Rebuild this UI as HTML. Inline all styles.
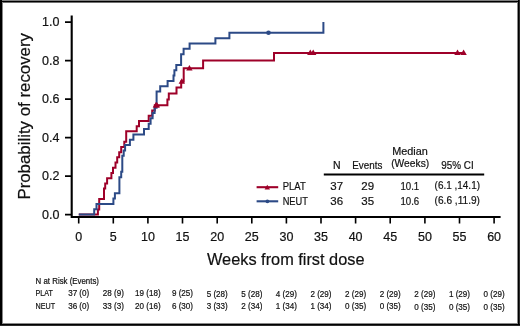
<!DOCTYPE html>
<html><head><meta charset="utf-8"><style>
html,body{margin:0;padding:0;background:#fff;width:520px;height:326px;overflow:hidden}
svg{display:block;will-change:transform}
text{font-family:"Liberation Sans",sans-serif;fill:#111;stroke:#111;stroke-width:0.2px}
</style></head><body>
<svg width="520" height="326" viewBox="0 0 520 326">
<rect x="0" y="0" width="520" height="326" fill="#fff"/>
<!-- border -->
<rect x="0" y="0" width="520" height="1" fill="#808080"/>
<rect x="0" y="1" width="520" height="1" fill="#000"/>
<rect x="2" y="2" width="516" height="1" fill="#707070"/>
<rect x="0" y="0" width="2" height="326" fill="#000"/>
<rect x="2" y="2" width="1" height="322" fill="#888"/>
<rect x="517" y="2" width="1" height="322" fill="#888"/>
<rect x="518" y="0" width="1" height="326" fill="#000"/>
<rect x="519" y="0" width="1" height="326" fill="#2a2a2a"/>
<rect x="2" y="323" width="516" height="1" fill="#888"/>
<rect x="0" y="324" width="520" height="1" fill="#000"/>
<rect x="0" y="325" width="520" height="1" fill="#2a2a2a"/>

<!-- axes -->
<g stroke="#000" fill="none">
<path d="M71.7 15.6V218M70.7 217H500.6" stroke-width="2.1"/>
<path d="M65 22.1H71M65 60.6H71M65 99.1H71M65 137.6H71M65 176.1H71M65 214.6H71" stroke-width="1.6"/>
<path d="M78.7 217V223.6M113.3 217V223.6M147.9 217V223.6M182.5 217V223.6M217.2 217V223.6M251.8 217V223.6M286.4 217V223.6M321 217V223.6M355.6 217V223.6M390.2 217V223.6M424.9 217V223.6M459.5 217V223.6M494.1 217V223.6" stroke-width="1.6"/>
</g>

<!-- y tick labels -->
<g font-size="12.5" text-anchor="end">
<text x="59.5" y="26">1.0</text>
<text x="59.5" y="64.5">0.8</text>
<text x="59.5" y="103">0.6</text>
<text x="59.5" y="141.5">0.4</text>
<text x="59.5" y="180">0.2</text>
<text x="59.5" y="218.5">0.0</text>
</g>
<!-- x tick labels -->
<g font-size="12.5" text-anchor="middle">
<text x="78.7" y="241">0</text>
<text x="113.3" y="241">5</text>
<text x="147.9" y="241">10</text>
<text x="182.5" y="241">15</text>
<text x="217.2" y="241">20</text>
<text x="251.8" y="241">25</text>
<text x="286.4" y="241">30</text>
<text x="321" y="241">35</text>
<text x="355.6" y="241">40</text>
<text x="390.2" y="241">45</text>
<text x="424.9" y="241">50</text>
<text x="459.5" y="241">55</text>
<text x="494.1" y="241">60</text>
</g>
<!-- axis titles -->
<text x="207" y="265.3" font-size="17" textLength="157.5" lengthAdjust="spacingAndGlyphs">Weeks from first dose</text>
<text transform="translate(29.8,199.6) rotate(-90)" font-size="17" textLength="166.6" lengthAdjust="spacingAndGlyphs">Probability of recovery</text>

<!-- curves -->
<g fill="none" stroke-width="2" stroke-linejoin="miter" stroke-linecap="butt">
<path stroke="#9e0029" d="M78.8,214.60 H97.9 V209.40 H99.2 V198.99 H104.0 V188.59 H105.2 V183.38 H107.1 V178.18 H111.4 V172.98 H113.0 V167.78 H115.5 V162.57 H117.2 V157.37 H119.2 V152.17 H121.2 V146.96 H124.3 V141.76 H126.2 V131.36 H136.7 V126.15 H139.0 V120.95 H148.7 V115.70 H152.2 V110.50 H154.8 V105.30 H167.4 V99.40 H168.8 V93.50 H176.5 V87.50 H181.2 V81.50 H183.7 V68.35 H203.1 V60.60 H274.0 V52.90 H463.6"/>
<path stroke="#2c4a86" d="M78.8,214.60 H94.2 V209.25 H96.5 V203.91 H113.4 V198.56 H114.9 V193.21 H119.4 V177.17 H121.2 V171.82 H122.3 V155.78 H123.7 V150.43 H125.1 V145.09 H129.9 V139.74 H133.4 V134.39 H144.0 V129.04 H148.7 V123.70 H150.6 V118.35 H152.6 V113.00 H154.6 V107.66 H156.6 V91.61 H160.2 V86.27 H167.6 V80.92 H173.5 V75.57 H174.4 V70.23 H176.3 V64.88 H181.1 V54.18 H183.6 V48.84 H189.6 V43.49 H215.4 V38.14 H229.4 V32.80 H323.4 V22.1"/>
</g>
<!-- censor marks -->
<g fill="#9e0029">
<path d="M152.7 107.5L155.9 102.0L159.1 107.5Z"/>
<path d="M153.7 107.5L156.9 102.0L160.1 107.5Z"/>
<path d="M178.6 83.7L181.8 78.2L185.0 83.7Z"/>
<path d="M186.2 70.5L189.4 65.0L192.6 70.5Z"/>
<path d="M307.1 55.1L310.3 49.6L313.5 55.1Z"/>
<path d="M310.0 55.1L313.2 49.6L316.4 55.1Z"/>
<path d="M454.3 55.1L457.5 49.6L460.7 55.1Z"/>
<path d="M460.4 55.1L463.6 49.6L466.8 55.1Z"/>
</g>
<circle cx="268.5" cy="32.8" r="2.3" fill="#2c4a86"/>

<!-- legend -->
<path d="M256.6 187.2H278.2" stroke="#9e0029" stroke-width="2.1"/>
<path d="M264.6 189.6L267.3 184.8L270 189.6Z" fill="#9e0029"/>
<path d="M256.6 201.3H278.2" stroke="#2c4a86" stroke-width="2.1"/>
<circle cx="267.4" cy="201.3" r="1.9" fill="#2c4a86"/>
<g font-size="10.5">
<text x="282.7" y="189.7" font-size="11" textLength="23" lengthAdjust="spacingAndGlyphs">PLAT</text>
<text x="282.7" y="204.6" font-size="11" textLength="25.2" lengthAdjust="spacingAndGlyphs">NEUT</text>
</g>
<path d="M323.8 174.4H484.2" stroke="#000" stroke-width="2"/>
<g font-size="10.5">
<text x="333" y="168.9">N</text>
<text x="352.3" y="168.9" textLength="30" lengthAdjust="spacingAndGlyphs">Events</text>
<text x="392.2" y="155" textLength="35.6" lengthAdjust="spacingAndGlyphs">Median</text>
<text x="391.2" y="167.3" textLength="38" lengthAdjust="spacingAndGlyphs">(Weeks)</text>
<text x="441.3" y="169.2" textLength="32.4" lengthAdjust="spacingAndGlyphs">95% CI</text>
</g>
<g font-size="11.5">
<text x="330.3" y="190">37</text>
<text x="361.3" y="190">29</text>
<text x="400.4" y="190" textLength="18.8" lengthAdjust="spacingAndGlyphs">10.1</text>
<text x="434.6" y="189" textLength="45.4" lengthAdjust="spacingAndGlyphs">(6.1 ,14.1)</text>
<text x="330.3" y="205">36</text>
<text x="361.3" y="205">35</text>
<text x="400.4" y="205" textLength="18.8" lengthAdjust="spacingAndGlyphs">10.6</text>
<text x="434.6" y="204" textLength="45.4" lengthAdjust="spacingAndGlyphs">(6.6 ,11.9)</text>
</g>

<!-- risk table -->
<g font-size="8.8">
<text x="35.6" y="283.8" textLength="63.4" lengthAdjust="spacingAndGlyphs">N at Risk (Events)</text>
<text x="35.6" y="296.1" textLength="17.4" lengthAdjust="spacingAndGlyphs">PLAT</text>
<text x="35.6" y="308.8" textLength="19.6" lengthAdjust="spacingAndGlyphs">NEUT</text>
</g>
<g font-size="8.8" text-anchor="middle">
<text x="78.7" y="296.30" textLength="21.1" lengthAdjust="spacingAndGlyphs">37 (0)</text>
<text x="113.3" y="296.35" textLength="21.1" lengthAdjust="spacingAndGlyphs">28 (9)</text>
<text x="147.9" y="296.40" textLength="25.6" lengthAdjust="spacingAndGlyphs">19 (18)</text>
<text x="182.5" y="296.45" textLength="21.1" lengthAdjust="spacingAndGlyphs">9 (25)</text>
<text x="217.2" y="296.50" textLength="21.1" lengthAdjust="spacingAndGlyphs">5 (28)</text>
<text x="251.8" y="296.55" textLength="21.1" lengthAdjust="spacingAndGlyphs">5 (28)</text>
<text x="286.4" y="296.60" textLength="21.1" lengthAdjust="spacingAndGlyphs">4 (29)</text>
<text x="321" y="296.65" textLength="21.1" lengthAdjust="spacingAndGlyphs">2 (29)</text>
<text x="355.6" y="296.70" textLength="21.1" lengthAdjust="spacingAndGlyphs">2 (29)</text>
<text x="390.2" y="296.75" textLength="21.1" lengthAdjust="spacingAndGlyphs">2 (29)</text>
<text x="424.9" y="296.80" textLength="21.1" lengthAdjust="spacingAndGlyphs">2 (29)</text>
<text x="459.5" y="296.85" textLength="21.1" lengthAdjust="spacingAndGlyphs">1 (29)</text>
<text x="494.1" y="296.90" textLength="21.1" lengthAdjust="spacingAndGlyphs">0 (29)</text>
<text x="78.7" y="309.00" textLength="21.1" lengthAdjust="spacingAndGlyphs">36 (0)</text>
<text x="113.3" y="309.05" textLength="21.1" lengthAdjust="spacingAndGlyphs">33 (3)</text>
<text x="147.9" y="309.10" textLength="25.6" lengthAdjust="spacingAndGlyphs">20 (16)</text>
<text x="182.5" y="309.15" textLength="21.1" lengthAdjust="spacingAndGlyphs">6 (30)</text>
<text x="217.2" y="309.20" textLength="21.1" lengthAdjust="spacingAndGlyphs">3 (33)</text>
<text x="251.8" y="309.25" textLength="21.1" lengthAdjust="spacingAndGlyphs">2 (34)</text>
<text x="286.4" y="309.30" textLength="21.1" lengthAdjust="spacingAndGlyphs">1 (34)</text>
<text x="321" y="309.35" textLength="21.1" lengthAdjust="spacingAndGlyphs">1 (34)</text>
<text x="355.6" y="309.40" textLength="21.1" lengthAdjust="spacingAndGlyphs">0 (35)</text>
<text x="390.2" y="309.45" textLength="21.1" lengthAdjust="spacingAndGlyphs">0 (35)</text>
<text x="424.9" y="309.50" textLength="21.1" lengthAdjust="spacingAndGlyphs">0 (35)</text>
<text x="459.5" y="309.55" textLength="21.1" lengthAdjust="spacingAndGlyphs">0 (35)</text>
<text x="494.1" y="309.60" textLength="21.1" lengthAdjust="spacingAndGlyphs">0 (35)</text>
</g>
</svg>
</body></html>
